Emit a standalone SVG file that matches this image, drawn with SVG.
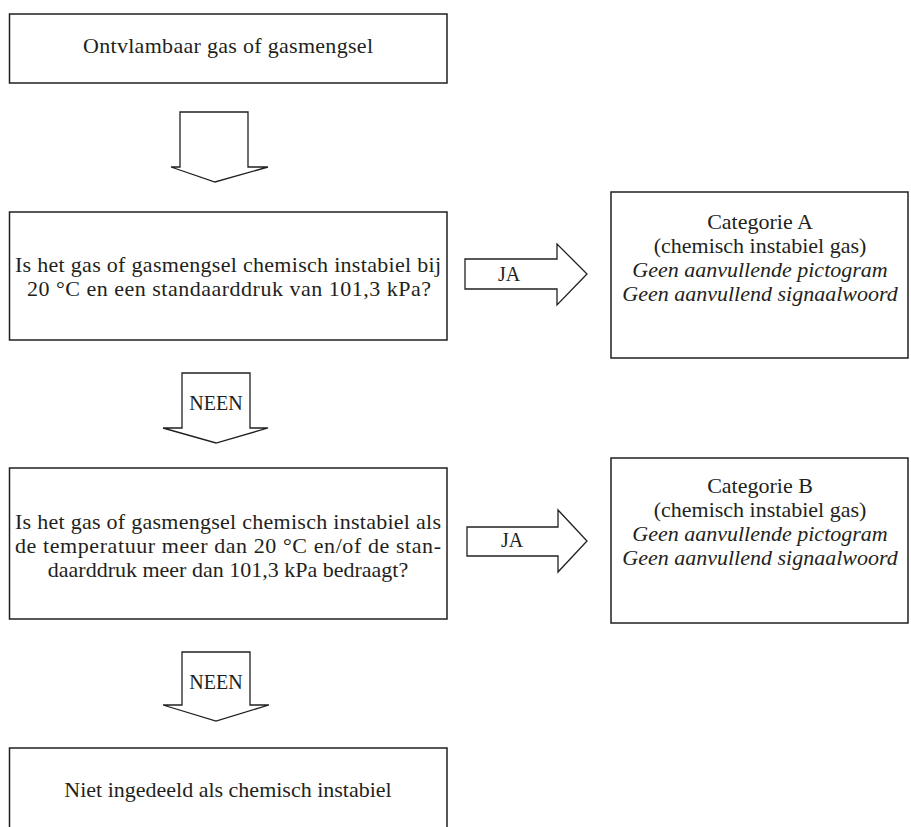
<svg xmlns="http://www.w3.org/2000/svg" width="911" height="827" viewBox="0 0 911 827">
<style>
.box{fill:#fff;stroke:#231f20;stroke-width:1.5}
.arr{fill:#fff;stroke:#231f20;stroke-width:1.3;stroke-linejoin:miter}
text{font-family:"Liberation Serif","Times New Roman",serif;font-size:22px;fill:#231f20;text-anchor:middle}
.it{font-style:italic}
.lbl{font-size:20px}
</style>
<rect width="911" height="827" fill="#fff"/>
<g id="connectors">
<g id="arrow-start-q1">
<polygon class="arr" points="180,112 248,112 248,167 268,167 215,182 171,167 180,167"/>
</g>
<g id="arrow-q1-catA">
<polygon class="arr" points="465,259 557,259 557,244 587,274 557,305 557,289 465,289"/>
<text class="lbl" x="509" y="281">JA</text>
</g>
<g id="arrow-q1-q2">
<polygon class="arr" points="182,373 250,373 250,428 268,428 216,443 163,428 182,428"/>
<text class="lbl" x="216" y="410">NEEN</text>
</g>
<g id="arrow-q2-catB">
<polygon class="arr" points="467,527 558,527 558,510 587,541 558,572 558,556 467,556"/>
<text class="lbl" x="512" y="547">JA</text>
</g>
<g id="arrow-q2-none">
<polygon class="arr" points="182,652 250,652 250,705 269,705 216,721 163,705 182,705"/>
<text class="lbl" x="216" y="689">NEEN</text>
</g>
</g>
<g id="node-start">
<rect class="box" x="9.5" y="14" width="437.5" height="69"/>
<text x="228" y="53" textLength="290" lengthAdjust="spacing">Ontvlambaar gas of gasmengsel</text>
</g>
<g id="node-q1">
<rect class="box" x="9.5" y="212" width="437.5" height="128"/>
<text x="228" y="272" textLength="426" lengthAdjust="spacing">Is het gas of gasmengsel chemisch instabiel bij</text>
<text x="229" y="295.5" textLength="404" lengthAdjust="spacing">20 °C en een standaarddruk van 101,3 kPa?</text>
</g>
<g id="node-catA">
<rect class="box" x="611" y="192" width="297" height="166"/>
<text x="760" y="229">Categorie A</text>
<text x="760" y="253">(chemisch instabiel gas)</text>
<text class="it" x="760" y="277">Geen aanvullende pictogram</text>
<text class="it" x="760" y="301">Geen aanvullend signaalwoord</text>
</g>
<g id="node-q2">
<rect class="box" x="9.5" y="468" width="437.5" height="151"/>
<text x="228" y="529" textLength="426" lengthAdjust="spacing">Is het gas of gasmengsel chemisch instabiel als</text>
<text x="228" y="553" textLength="426" lengthAdjust="spacing">de temperatuur meer dan 20 °C en/of de stan-</text>
<text x="228" y="577">daarddruk meer dan 101,3 kPa bedraagt?</text>
</g>
<g id="node-catB">
<rect class="box" x="611" y="458" width="297" height="165"/>
<text x="760" y="493">Categorie B</text>
<text x="760" y="517">(chemisch instabiel gas)</text>
<text class="it" x="760" y="541">Geen aanvullende pictogram</text>
<text class="it" x="760" y="565">Geen aanvullend signaalwoord</text>
</g>
<g id="node-none">
<rect class="box" x="9.5" y="748" width="437.5" height="100"/>
<text x="228" y="797">Niet ingedeeld als chemisch instabiel</text>
</g>
</svg>
